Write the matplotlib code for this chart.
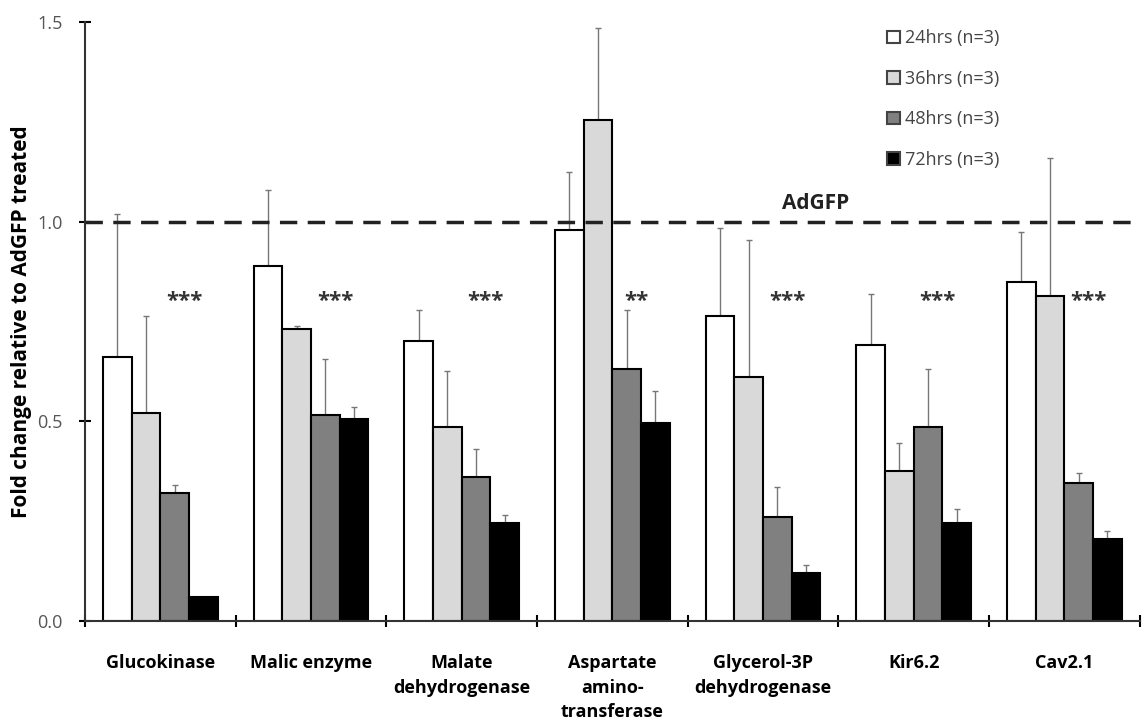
import matplotlib
matplotlib.use("Agg")
import matplotlib.pyplot as plt
import numpy as np

plt.rcParams['font.family'] = ['Open Sans', 'DejaVu Sans']

genes = ["Glucokinase", "Malic enzyme", "Malate\ndehydrogenase", "Aspartate\namino-\ntransferase",
         "Glycerol-3P\ndehydrogenase", "Kir6.2", "Cav2.1"]
series = ["24hrs (n=3)", "36hrs (n=3)", "48hrs (n=3)", "72hrs (n=3)"]
colors = ["white", "#d9d9d9", "#808080", "black"]

means = {
    "24hrs (n=3)": [0.66, 0.89, 0.70, 0.98, 0.765, 0.69, 0.85],
    "36hrs (n=3)": [0.52, 0.73, 0.485, 1.255, 0.61, 0.375, 0.815],
    "48hrs (n=3)": [0.32, 0.515, 0.36, 0.63, 0.26, 0.485, 0.345],
    "72hrs (n=3)": [0.06, 0.505, 0.245, 0.495, 0.12, 0.245, 0.205],
}
errs = {
    "24hrs (n=3)": [0.36, 0.19, 0.08, 0.145, 0.22, 0.13, 0.125],
    "36hrs (n=3)": [0.245, 0.01, 0.14, 0.23, 0.345, 0.07, 0.345],
    "48hrs (n=3)": [0.02, 0.14, 0.07, 0.15, 0.075, 0.145, 0.025],
    "72hrs (n=3)": [0.0, 0.03, 0.02, 0.08, 0.02, 0.035, 0.02],
}
stars = ["***", "***", "***", "**", "***", "***", "***"]

fig = plt.figure(figsize=(11.44, 7.26), dpi=100)
ax = fig.add_axes([0.0743, 0.1446, 0.922, 0.8251])

x = np.arange(len(genes))
w = 0.19
for i, s in enumerate(series):
    pos = x + (i - 1.5) * w
    ax.bar(pos, means[s], w, color=colors[i], edgecolor="black", linewidth=1.5,
           label=s, zorder=2)
    ax.errorbar(pos, means[s], yerr=[np.zeros(len(genes)), errs[s]], fmt="none",
                ecolor="#777777", elinewidth=1, capsize=2, capthick=1, zorder=1)

for xi, st in zip(x, stars):
    ax.text(xi + 0.16, 0.80, st, ha="center", va="center", fontsize=16,
            fontweight="bold", color="#333333")

ax.axhline(1.0, color="#222222", linestyle=(0, (5, 3)), linewidth=2.5, zorder=3)
ax.text(4.35, 1.045, "AdGFP", ha="center", va="center", fontsize=15,
        fontweight="bold", color="#222222")

ax.set_xlim(-0.5, len(genes) - 0.5)
ax.set_ylim(0, 1.5)
ax.set_yticks([0.0, 0.5, 1.0, 1.5])
ax.set_yticklabels(["0.0", "0.5", "1.0", "1.5"], color="#555555", fontsize=13)
ax.set_xticks(x)
ax.set_xticklabels(genes, fontsize=13, fontweight="bold", va="top", linespacing=1.45)
ax.tick_params(axis="x", length=0, pad=24)
ax.set_xticks(np.arange(len(genes) + 1) - 0.5, minor=True)
ax.tick_params(axis="x", which="minor", length=8, direction="inout", width=1.5)
ax.tick_params(axis="y", length=8, direction="inout", width=1.5, pad=12)
ax.set_ylabel("Fold change relative to AdGFP treated", fontsize=15, fontweight="bold",
              labelpad=4)

for sp in ["top", "right"]:
    ax.spines[sp].set_visible(False)
for sp in ["left", "bottom"]:
    ax.spines[sp].set_linewidth(1.5)
    ax.spines[sp].set_color("#333333")

leg = ax.legend(loc="upper left", bbox_to_anchor=(0.745, 1.015), frameon=False,
                fontsize=13, handlelength=0.7, handleheight=0.7, labelspacing=1.25,
                handletextpad=0.3)
for t in leg.get_texts():
    t.set_color("#444444")
for h in leg.legend_handles:
    h.set_edgecolor("#444444")

fig.savefig("out.png", dpi=100)
